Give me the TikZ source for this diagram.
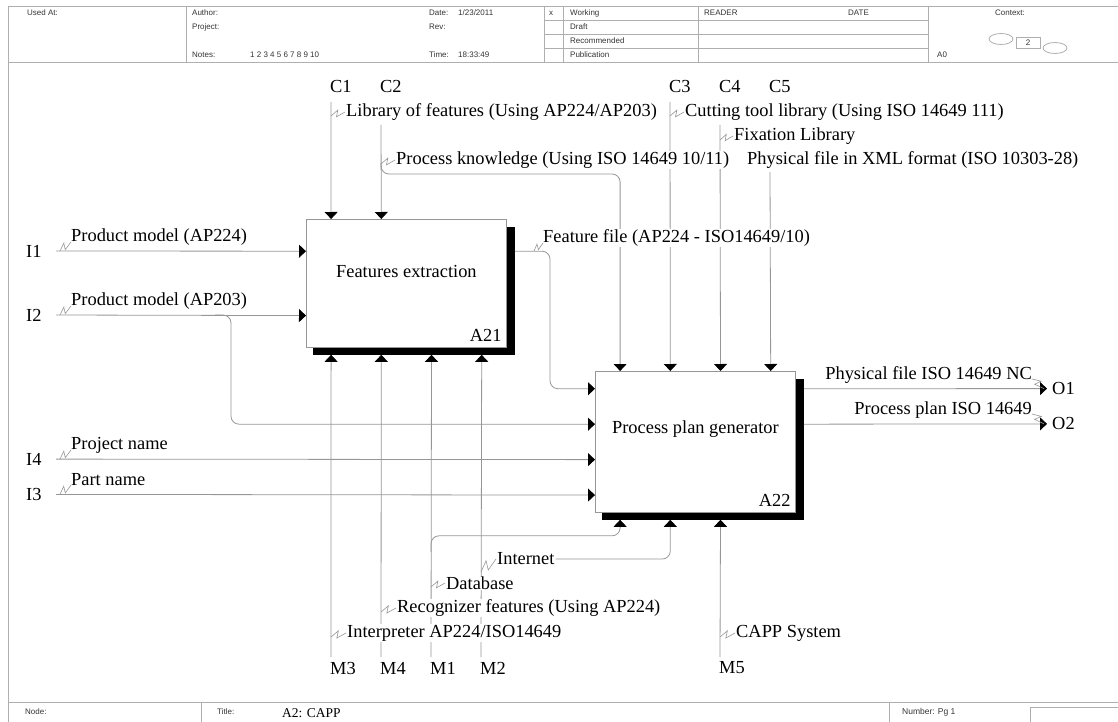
\documentclass[tikz,border=0pt]{standalone}
\usepackage{fontspec}
\setmainfont{Liberation Serif}
\newfontfamily\hdrfont{Liberation Sans}
\usepackage{tikz}
\usetikzlibrary{arrows.meta,calc,positioning}

\definecolor{linegray}{RGB}{150,150,150}
\definecolor{framegray}{RGB}{175,175,175}

\tikzset{
  conn/.style={draw=linegray, line width=0.8pt},
  tri/.style={-{Triangle[width=13pt,length=7pt,color=black]}},
  actbox/.style={draw=linegray, line width=0.8pt, fill=white, minimum width=200pt, inner sep=0pt, anchor=north west},
  txt/.style={font=\fontsize{18.4}{20}\selectfont, inner sep=1pt},
  lbl/.style={txt, fill=white, anchor=west},
  hdr/.style={font=\hdrfont\fontsize{8}{9}\selectfont, text=black!80, inner sep=0pt, anchor=west},
  frame/.style={draw=framegray, line width=0.8pt},
}

% kleine Zickzack-Verbindung zwischen Pfeil und Beschriftung
\newcommand{\squig}[2]{\draw[conn, line width=0.6pt] #1 -- ($#1!0.62!25:#2$) -- ($#1!0.38!-25:#2$) -- #2;}

\begin{document}
\begin{tikzpicture}[x=1pt,y=-1pt]
    \useasboundingbox (0,0) rectangle (1118,722);

    % Rahmen und Kopfzeile
    \draw[frame] (8,6) -- (1118,6);
    \draw[frame] (8,62) -- (1118,62);
    \draw[frame] (8,6) -- (8,722);
    \foreach \x in {186,544,563,698,928} {
        \draw[frame] (\x,6) -- (\x,62);
    }
    \foreach \y in {20,34,48} {
        \draw[frame] (544,\y) -- (928,\y);
    }
    \node[hdr] (usedat) at (27,13) {Used At:};
    \node[hdr] (author) at (192,13) {Author:};
    \node[hdr] (project) at (192,27) {Project:};
    \node[hdr] (notes) at (192,55) {Notes:};
    \node[hdr] (notelist) at (250,55) {1 2 3 4 5 6 7 8 9 10};
    \node[hdr] (date) at (429,13) {Date:};
    \node[hdr] (dateval) at (458,13) {1/23/2011};
    \node[hdr] (rev) at (429,27) {Rev:};
    \node[hdr] (time) at (429,55) {Time:};
    \node[hdr] (timeval) at (458,55) {18:33:49};
    \node[hdr] (xmark) at (549,13) {x};
    \node[hdr] (working) at (570,13) {Working};
    \node[hdr] (draft) at (570,27) {Draft};
    \node[hdr] (recom) at (570,41) {Recommended};
    \node[hdr] (publ) at (570,55) {Publication};
    \node[hdr] (reader) at (704,13) {READER};
    \node[hdr] (datecol) at (848,13) {DATE};
    \node[hdr, anchor=center] (context) at (1010,13) {Context:};
    \node[hdr] (azero) at (937,55) {A0};
    \draw[frame] (1001,39) ellipse (12 and 5.5);
    \node[hdr, draw=framegray, anchor=center, minimum width=24pt, minimum height=11pt] (ctxnum) at (1028,43) {2};
    \draw[frame] (1055,48) ellipse (12 and 5.5);

    % Fusszeile
    \draw[frame] (8,702) -- (1118,702);
    \draw[frame] (201,702) -- (201,722);
    \draw[frame] (889,702) -- (889,722);
    \draw[frame] (1030,707) rectangle (1125,725);
    \node[hdr] (nodelbl) at (25,712) {Node:};
    \node[hdr] (titlelbl) at (217,712) {Title:};
    \node[txt, anchor=west, font=\fontsize{13.5}{15}\selectfont] (titleval) at (281,713) {A2: CAPP};
    \node[hdr, font=\hdrfont\fontsize{8.5}{9}\selectfont] (number) at (902,712) {Number: Pg 1};

    % Aktivitaeten
    \node[actbox, minimum height=128pt] (fe) at (306,219) {};
    \fill ($(fe.north east)+(0,8)$) rectangle ($(fe.south east)+(8,7)$);
    \fill ($(fe.south west)+(7,0)$) rectangle ($(fe.south east)+(8,7)$);
    \node[txt] (fetitle) at ($(fe.north)!0.41!(fe.south)$) {Features extraction};
    \node[txt, anchor=base east] (fenum) at ($(fe.south east)+(-4,-6)$) {A21};

    \node[actbox, minimum height=141pt] (ppg) at (595,371) {};
    \fill ($(ppg.north east)+(0,8)$) rectangle ($(ppg.south east)+(8,7)$);
    \fill ($(ppg.south west)+(7,0)$) rectangle ($(ppg.south east)+(8,7)$);
    \node[txt] (ppgtitle) at ($(ppg.north)!0.41!(ppg.south)$) {Process plan generator};
    \node[txt, anchor=base east] (ppgnum) at ($(ppg.south east)+(-4,-6)$) {A22};

    % Anschlusspunkte
    \foreach \k/\i in {0.125/1,0.375/2,0.625/3,0.875/4} {
        \coordinate (fetop\i) at ($(fe.north west)!\k!(fe.north east)$);
        \coordinate (febot\i) at ($(fe.south west)!\k!(fe.south east)+(0,7)$);
        \coordinate (ppgtop\i) at ($(ppg.north west)!\k!(ppg.north east)$);
        \coordinate (ppgbot\i) at ($(ppg.south west)!\k!(ppg.south east)+(0,7)$);
        \coordinate (ppgin\i) at ($(ppg.north west)!\k!(ppg.south west)$);
        \coordinate (ppgout\i) at ($(ppg.north east)!\k!(ppg.south east)+(8,0)$);
    }
    \coordinate (fein1) at ($(fe.north west)!0.25!(fe.south west)$);
    \coordinate (fein2) at ($(fe.north west)!0.75!(fe.south west)$);
    \coordinate (feout) at ($(fe.north east)!0.25!(fe.south east)+(8,0)$);

    % Steuerungen
    \foreach \n/\x in {C1/331,C2/381,C3/670,C4/720,C5/770} {
        \node[txt, anchor=west] (lab\n) at (\x-2,87) {\n};
    }
    \coordinate (c1top) at (331,102);
    \coordinate (c2top) at (381,125);
    \coordinate (c3top) at (670,102);
    \coordinate (c4top) at (720,125);
    \coordinate (c5top) at (770,172);
    \draw[conn,tri] (c1top) -- (fetop1);
    \draw[conn,tri] (c2top) -- (fetop2);
    \draw[conn,tri,rounded corners=8pt] (381,163) |- ($(ppgtop1)+(0,-197)$) -- (ppgtop1);
    \draw[conn,tri] (c3top) -- (ppgtop2);
    \draw[conn,tri] (c4top) -- (ppgtop3);
    \draw[conn,tri] (c5top) -- (ppgtop4);

    % Eingaben
    \foreach \n/\y in {I1/251,I2/315,I4/459.1,I3/494.4} {
        \node[txt, anchor=west] (lab\n) at (25,\y) {\n};
    }
    \coordinate (i1start) at (56,251);
    \coordinate (i2start) at (56,315);
    \coordinate (i4start) at (56,459.1);
    \coordinate (i3start) at (56,494.4);
    \draw[conn,tri] (i1start) -- (fein1);
    \draw[conn,tri] (i2start) -- (fein2);
    \draw[conn,tri,rounded corners=8pt] (215,315) -| ($(ppgin2)+(-364,0)$) -- (ppgin2);
    \draw[conn,tri] (i4start) -- (ppgin3);
    \draw[conn,tri] (i3start) -- (ppgin4);
    \draw[conn,tri,rounded corners=8pt] (feout) -| ($(ppgin1)+(-45,0)$) -- (ppgin1);

    % Ausgaben
    \coordinate (o1end) at (1047,388.6);
    \coordinate (o2end) at (1047,423.9);
    \draw[conn,tri] (ppgout1) -- (o1end);
    \draw[conn,tri] (ppgout2) -- (o2end);
    \node[txt, anchor=west] (labO1) at (1051,388.6) {O1};
    \node[txt, anchor=west] (labO2) at (1051,423.9) {O2};

    % Mechanismen
    \foreach \n/\x in {M3/331,M4/381,M1/431,M2/481,M5/720} {
        \node[txt, anchor=west] (lab\n) at (\x-2,668) {\n};
    }
    \coordinate (m3bot) at (331,657);
    \coordinate (m4bot) at (381,657);
    \coordinate (m1bot) at (431,657);
    \coordinate (m2bot) at (481,657);
    \coordinate (m5bot) at (720,657);
    \draw[conn,tri] (m3bot) -- (febot1);
    \draw[conn,tri] (m4bot) -- (febot2);
    \draw[conn,tri] (m1bot) -- (febot3);
    \draw[conn,tri] (m2bot) -- (febot4);
    \draw[conn,tri] (m5bot) -- (ppgbot3);
    \draw[conn,tri,rounded corners=8pt] (431,552) |- ($(ppgbot1)+(0,16)$) -- (ppgbot1);

    % Beschriftungen
    \node[lbl] (lib) at (345,112) {Library of features (Using AP224/AP203)};
    \node[lbl] (cut) at (684,112) {Cutting tool library (Using ISO 14649 111)};
    \node[lbl] (fix) at (733,136) {Fixation Library};
    \node[lbl] (pk) at (395,160) {Process knowledge (Using ISO 14649 10/11)};
    \node[lbl] (xml) at (746,160) {Physical file in XML format (ISO 10303-28)};
    \node[lbl] (ff) at (542,238) {Feature file (AP224 - ISO14649/10)};
    \node[lbl] (pm224) at (70,237) {Product model (AP224)};
    \node[lbl] (pm203) at (70,301) {Product model (AP203)};
    \node[lbl] (projn) at (70,445) {Project name};
    \node[lbl] (partn) at (70,480) {Part name};
    \node[lbl, anchor=east] (pfnc) at (1033,375) {Physical file ISO 14649 NC};
    \node[lbl, anchor=east] (ppiso) at (1033,410) {Process plan ISO 14649};
    \node[lbl] (inet) at (496,559) {Internet};
    \node[lbl] (db) at (445,583) {Database};
    \node[lbl] (recog) at (396,608) {Recognizer features (Using AP224)};
    \node[lbl] (interp) at (346,633) {Interpreter AP224/ISO14649};
    \node[lbl] (capp) at (735,633) {CAPP System};

    \draw[conn,tri,rounded corners=8pt] (inet.east) -| (ppgbot2);

    % Zickzack
    \squig{(331,116)}{(lib.west)}
    \squig{(670,116)}{(cut.west)}
    \squig{(720,140)}{(fix.west)}
    \squig{(381,164)}{(pk.west)}
    \squig{(534,251)}{($(ff.west)+(1,5)$)}
    \squig{(60,251)}{($(pm224.west)+(1,5)$)}
    \squig{(60,315)}{($(pm203.west)+(1,5)$)}
    \squig{(60,459.1)}{($(projn.west)+(1,5)$)}
    \squig{(60,494.4)}{($(partn.west)+(1,5)$)}
    \squig{($(pfnc.east)+(-1,4)$)}{(1044,388.6)}
    \squig{($(ppiso.east)+(-1,4)$)}{(1044,423.9)}
    \squig{(481,572)}{(inet.west)}
    \squig{(431,587)}{(db.west)}
    \squig{(381,612)}{(recog.west)}
    \squig{(331,637)}{(interp.west)}
    \squig{(720,637)}{(capp.west)}

\end{tikzpicture}
\end{document}
